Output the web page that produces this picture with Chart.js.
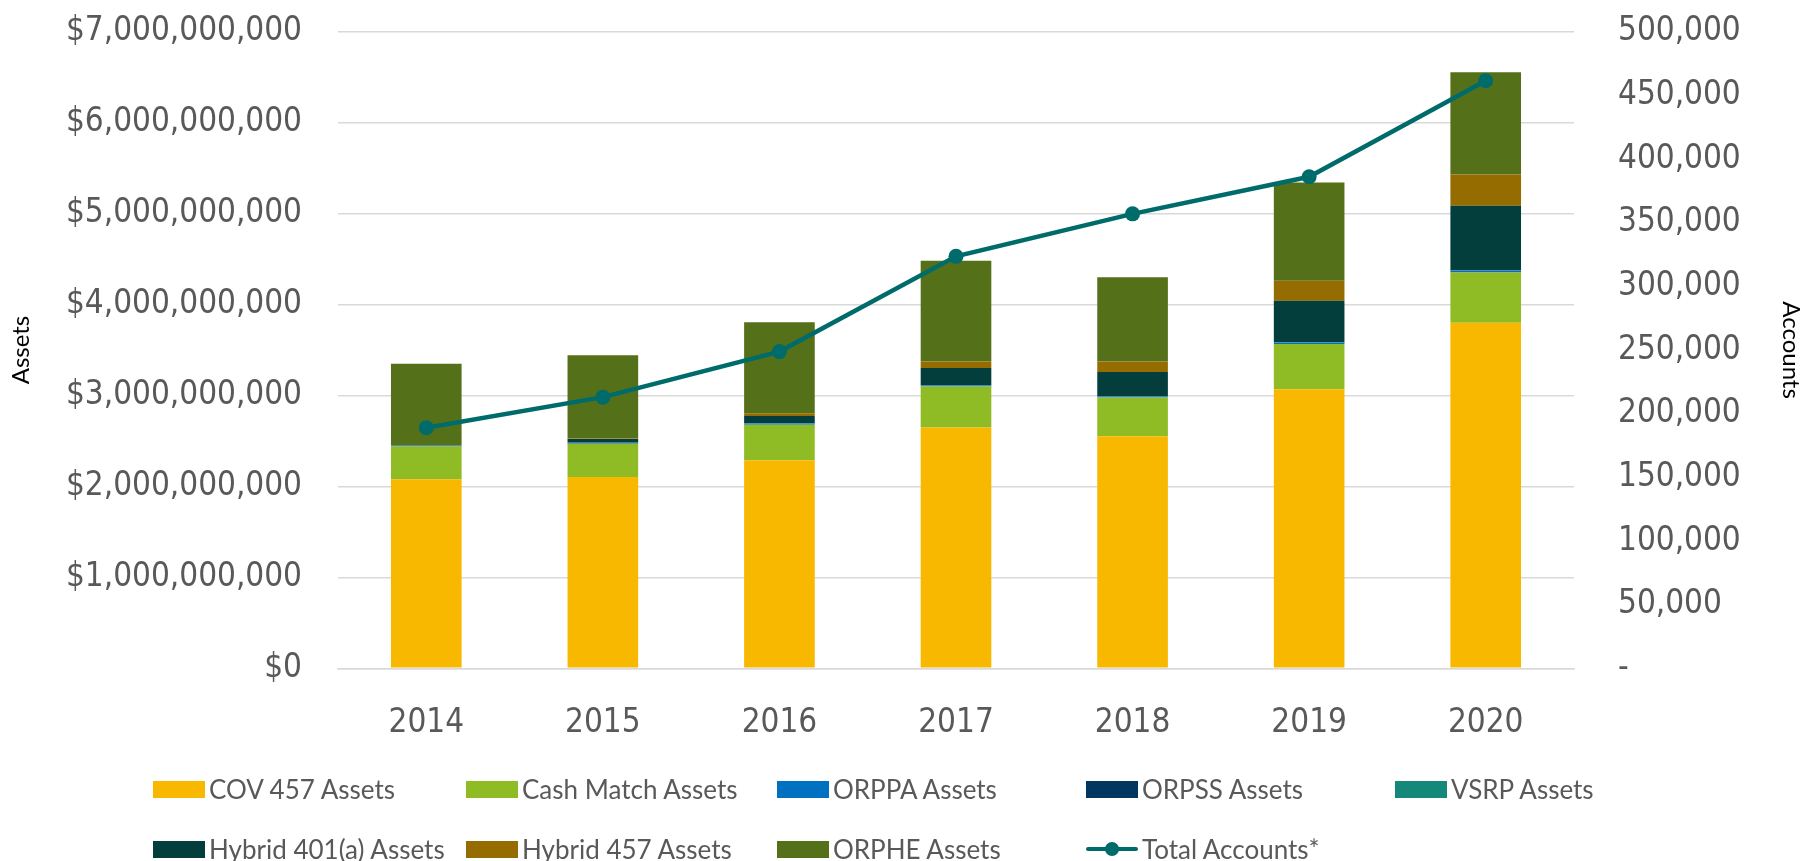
<!DOCTYPE html>
<html>
<head>
<meta charset="utf-8">
<script src="https://cdn.jsdelivr.net/npm/chart.js@4.4.1/dist/chart.umd.min.js"></script>
<style>
  html, body { margin: 0; padding: 0; background: #fff; overflow: hidden; }
  #wrap { position: relative; width: 1808px; height: 861px; overflow: hidden; }
  #c { position: absolute; left: 0; top: -32px; }
  #legend { position: absolute; left: 0; top: 0; width: 1808px; height: 861px; pointer-events: none; }
  .li { position: absolute; display: flex; align-items: center; font-family: Lato, "Open Sans", sans-serif; font-size: 26px; color: #595959; white-space: nowrap; }
  .sw { width: 52px; height: 17px; margin-right: 4px; }
  .ln { width: 52px; height: 17px; margin-right: 4px; position: relative; }
  .ln::before { content: ""; position: absolute; left: 0; right: 0; top: 6.5px; height: 4px; border-radius: 2px; background: var(--c); }
  .ln::after { content: ""; position: absolute; left: 19px; top: 1.5px; width: 14px; height: 14px; border-radius: 50%; background: var(--c); }
</style>
</head>
<body>
<div id="wrap">
  <canvas id="c" width="1808" height="893"></canvas>
  <div id="legend"></div>
</div>
<script>
// ---- data ----
const years = ["2014", "2015", "2016", "2017", "2018", "2019", "2020"];
const cov457   = [2.078e9, 2.104e9, 2.287e9, 2.648e9, 2.553e9, 3.069e9, 3.800e9];
const cashMatch= [0.360e9, 0.365e9, 0.392e9, 0.450e9, 0.425e9, 0.498e9, 0.552e9];
const orppa    = [0.010e9, 0.010e9, 0.012e9, 0.012e9, 0.013e9, 0.015e9, 0.020e9];
const orpss    = [0.002e9, 0.002e9, 0.002e9, 0.002e9, 0.002e9, 0.002e9, 0.002e9];
const vsrp     = [0.001e9, 0.002e9, 0.002e9, 0.002e9, 0.002e9, 0.003e9, 0.003e9];
const hybrid401a=[0.000e9, 0.040e9, 0.079e9, 0.188e9, 0.263e9, 0.456e9, 0.711e9];
const hybrid457= [0.000e9, 0.004e9, 0.032e9, 0.073e9, 0.117e9, 0.218e9, 0.342e9];
const orphe    = [0.897e9, 0.916e9, 0.999e9, 1.107e9, 0.925e9, 1.083e9, 1.126e9];
const totalAccounts = [188950, 213000, 248800, 323600, 357000, 386100, 461500];
const assetTicks = [0, 1e9, 2e9, 3e9, 4e9, 5e9, 6e9, 7e9];
const accountTicks = [0, 50000, 100000, 150000, 200000, 250000, 300000, 350000, 400000, 450000, 500000];

const barSeries = [
  { label: "COV 457 Assets", data: cov457, color: "#F8B800" },
  { label: "Cash Match Assets", data: cashMatch, color: "#8FBB25" },
  { label: "ORPPA Assets", data: orppa, color: "#0070C0" },
  { label: "ORPSS Assets", data: orpss, color: "#003660" },
  { label: "VSRP Assets", data: vsrp, color: "#14897A" },
  { label: "Hybrid 401(a) Assets", data: hybrid401a, color: "#033E3D" },
  { label: "Hybrid 457 Assets", data: hybrid457, color: "#956C00" },
  { label: "ORPHE Assets", data: orphe, color: "#547119" }
];
const lineColor = "#006B6B";

const datasets = barSeries.map(s => ({
  type: "bar", label: s.label, data: s.data, backgroundColor: s.color,
  borderWidth: 0, yAxisID: "y", stack: "a", order: 1,
  categoryPercentage: 0.8, barPercentage: 0.5
}));
datasets.push({
  type: "line", label: "Total Accounts*", data: totalAccounts, yAxisID: "y1",
  borderColor: lineColor, backgroundColor: lineColor, borderWidth: 4.5,
  pointRadius: 7.5, pointHoverRadius: 7.5, pointBackgroundColor: lineColor,
  pointBorderWidth: 0, tension: 0, order: 0
});

const tickFont = { family: "'DejaVu Sans Condensed', 'DejaVu Sans'", size: 33 };
const titleFont = { family: "Lato", size: 24 };
const CANVAS_H = 893, PLOT_BOTTOM = 668.3 + 32;

const chart = new Chart(document.getElementById("c"), {
  data: { labels: years, datasets },
  options: {
    responsive: false, animation: false,
    layout: { padding: { top: 0, bottom: 0, left: 0, right: 0 } },
    plugins: { legend: { display: false }, tooltip: { enabled: false } },
    scales: {
      x: {
        stacked: true,
        grid: { display: false, drawTicks: false },
        border: { display: true, color: "#D9D9D9", width: 1.5 },
        ticks: { font: tickFont, color: "#595959", padding: 35 },
        afterFit: s => { s.height = CANVAS_H - PLOT_BOTTOM; }
      },
      y: {
        stacked: true, position: "left", min: 0, max: 7e9,
        afterBuildTicks: s => { s.ticks = assetTicks.map(v => ({ value: v })); },
        grid: { color: "#D9D9D9", lineWidth: 1.5, drawTicks: false },
        border: { display: false },
        ticks: { font: tickFont, color: "#595959", padding: 36,
          callback: v => "$" + Number(v).toLocaleString("en-US") },
        title: { display: true, text: "Assets", font: titleFont, color: "#000", padding: { top: 7, bottom: 0 } },
        afterFit: s => { s.width = 338; }
      },
      y1: {
        position: "right", min: 0, max: 500000,
        afterBuildTicks: s => { s.ticks = accountTicks.map(v => ({ value: v })); },
        grid: { display: false, drawTicks: false },
        border: { display: false },
        ticks: { font: tickFont, color: "#595959", padding: 44,
          callback: v => v === 0 ? "-" : Number(v).toLocaleString("en-US") },
        title: { display: true, text: "Accounts", font: titleFont, color: "#000", padding: { top: 3, bottom: 0 } },
        afterFit: s => { s.width = 1808 - 1574; }
      }
    }
  }
});

// ---- HTML legend built from the chart datasets ----
const legend = document.getElementById("legend");
const colX = [153, 466, 777, 1086, 1395];
const rowY = [789, 849];
chart.data.datasets.forEach((ds, i) => {
  const row = i < 5 ? 0 : 1, col = i < 5 ? i : i - 5;
  const el = document.createElement("div");
  el.className = "li";
  el.style.left = colX[col] + "px";
  el.style.top = (rowY[row] - 17) + "px";
  el.style.height = "34px";
  const sw = document.createElement("span");
  if (ds.type === "line") { sw.className = "ln"; sw.style.setProperty("--c", ds.borderColor); }
  else { sw.className = "sw"; sw.style.background = ds.backgroundColor; }
  el.appendChild(sw);
  const t = document.createElement("span");
  t.textContent = ds.label;
  el.appendChild(t);
  legend.appendChild(el);
});
</script>
</body>
</html>
